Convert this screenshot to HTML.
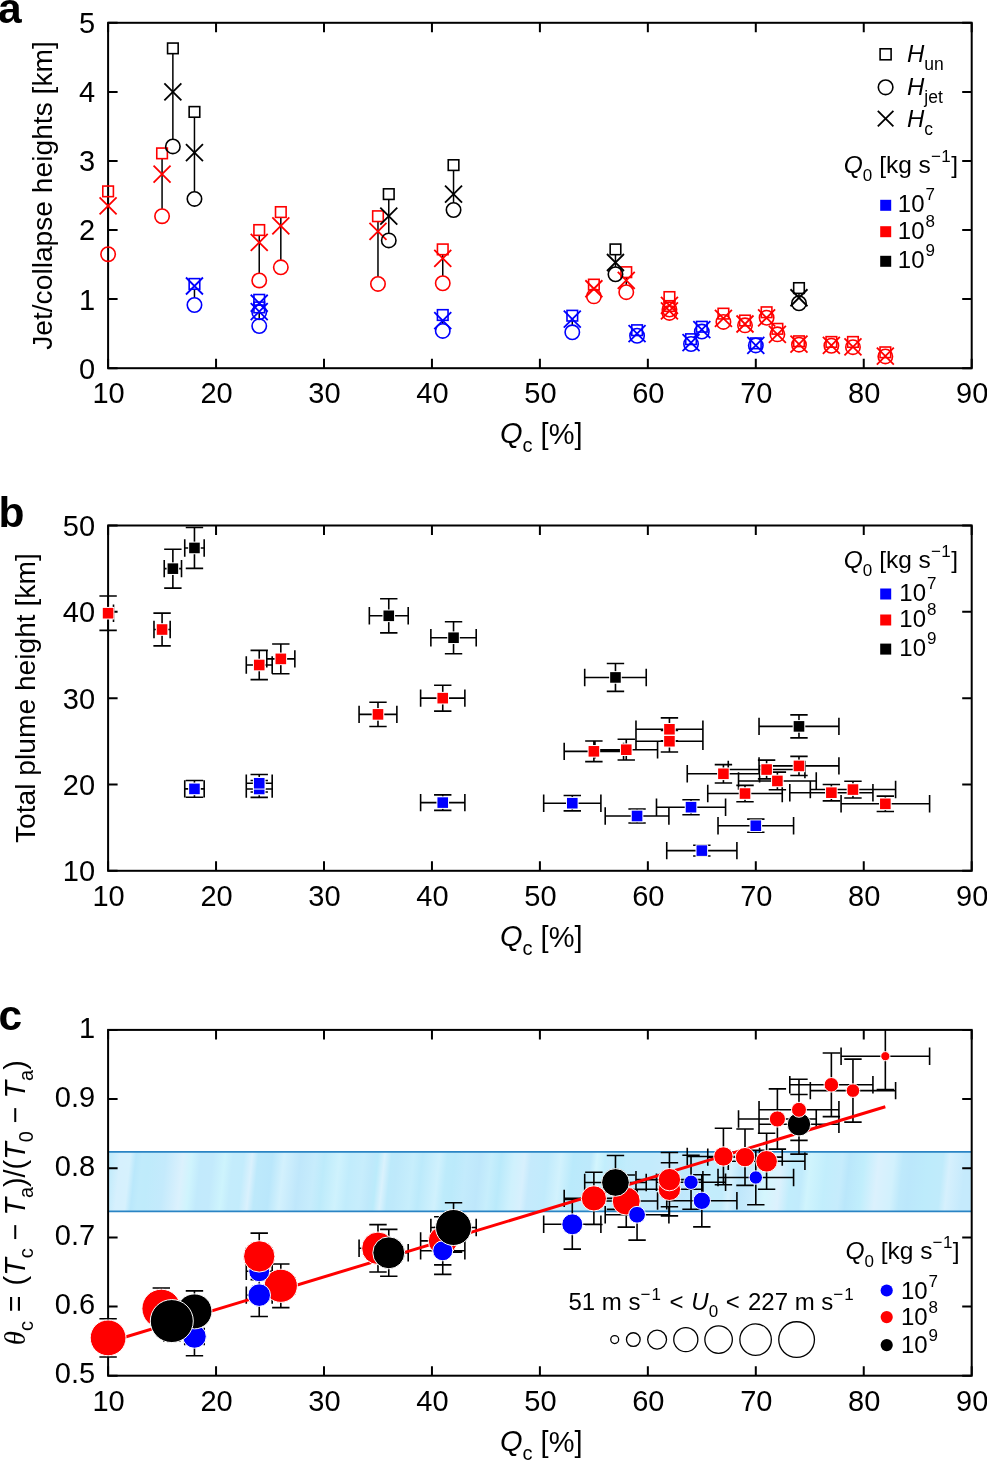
<!DOCTYPE html><html><head><meta charset="utf-8"><style>html,body{margin:0;padding:0;background:#fff;}svg{display:block;will-change:transform;}</style></head><body><svg width="987" height="1461" viewBox="0 0 987 1461">
<rect width="987" height="1461" fill="#fff"/>
<path d="M108.10,368.20V358.70M108.10,22.80V32.30M216.05,368.20V358.70M216.05,22.80V32.30M324.00,368.20V358.70M324.00,22.80V32.30M431.95,368.20V358.70M431.95,22.80V32.30M539.90,368.20V358.70M539.90,22.80V32.30M647.85,368.20V358.70M647.85,22.80V32.30M755.80,368.20V358.70M755.80,22.80V32.30M863.75,368.20V358.70M863.75,22.80V32.30M971.70,368.20V358.70M971.70,22.80V32.30M108.10,368.20H117.60M971.70,368.20H962.20M108.10,299.12H117.60M971.70,299.12H962.20M108.10,230.04H117.60M971.70,230.04H962.20M108.10,160.96H117.60M971.70,160.96H962.20M108.10,91.88H117.60M971.70,91.88H962.20M108.10,22.80H117.60M971.70,22.80H962.20" stroke="#000" stroke-width="2.0" fill="none"/>
<rect x="108.10" y="22.80" width="863.60" height="345.40" fill="none" stroke="#000" stroke-width="2.0"/>
<line x1="108.10" y1="196.66" x2="108.10" y2="247.02" stroke="#000" stroke-width="1.5"/>
<line x1="162.07" y1="158.66" x2="162.07" y2="209.02" stroke="#000" stroke-width="1.5"/>
<line x1="172.87" y1="53.66" x2="172.87" y2="139.25" stroke="#000" stroke-width="1.5"/>
<line x1="194.46" y1="117.21" x2="194.46" y2="191.75" stroke="#000" stroke-width="1.5"/>
<line x1="194.46" y1="289.22" x2="194.46" y2="297.79" stroke="#000" stroke-width="1.5"/>
<line x1="259.23" y1="235.34" x2="259.23" y2="273.27" stroke="#000" stroke-width="1.5"/>
<line x1="259.23" y1="312.71" x2="259.23" y2="318.86" stroke="#000" stroke-width="1.5"/>
<line x1="280.82" y1="217.38" x2="280.82" y2="260.14" stroke="#000" stroke-width="1.5"/>
<line x1="377.98" y1="221.52" x2="377.98" y2="276.72" stroke="#000" stroke-width="1.5"/>
<line x1="388.77" y1="199.42" x2="388.77" y2="233.20" stroke="#000" stroke-width="1.5"/>
<line x1="442.75" y1="254.68" x2="442.75" y2="276.03" stroke="#000" stroke-width="1.5"/>
<line x1="442.75" y1="320.31" x2="442.75" y2="323.70" stroke="#000" stroke-width="1.5"/>
<line x1="453.54" y1="170.40" x2="453.54" y2="202.81" stroke="#000" stroke-width="1.5"/>
<line x1="572.29" y1="321.00" x2="572.29" y2="325.08" stroke="#000" stroke-width="1.5"/>
<line x1="615.47" y1="254.68" x2="615.47" y2="267.05" stroke="#000" stroke-width="1.5"/>
<line x1="626.26" y1="277.48" x2="626.26" y2="285.01" stroke="#000" stroke-width="1.5"/>
<line x1="798.98" y1="293.37" x2="798.98" y2="296.06" stroke="#000" stroke-width="1.5"/>
<rect x="189.16" y="278.62" width="10.6" height="10.6" fill="none" stroke="#0000ff" stroke-width="1.6"/>
<circle cx="194.46" cy="304.99" r="7.2" fill="none" stroke="#0000ff" stroke-width="1.6"/>
<path d="M185.96,277.49L202.96,294.49M185.96,294.49L202.96,277.49" stroke="#0000ff" stroke-width="1.8" fill="none"/>
<rect x="253.93" y="294.51" width="10.6" height="10.6" fill="none" stroke="#0000ff" stroke-width="1.6"/>
<circle cx="259.23" cy="312.25" r="7.2" fill="none" stroke="#0000ff" stroke-width="1.6"/>
<path d="M250.73,294.76L267.73,311.76M250.73,311.76L267.73,294.76" stroke="#0000ff" stroke-width="1.8" fill="none"/>
<rect x="253.93" y="302.11" width="10.6" height="10.6" fill="none" stroke="#0000ff" stroke-width="1.6"/>
<circle cx="259.23" cy="326.06" r="7.2" fill="none" stroke="#0000ff" stroke-width="1.6"/>
<path d="M250.73,303.05L267.73,320.05M250.73,320.05L267.73,303.05" stroke="#0000ff" stroke-width="1.8" fill="none"/>
<rect x="437.44" y="309.71" width="10.6" height="10.6" fill="none" stroke="#0000ff" stroke-width="1.6"/>
<circle cx="442.75" cy="330.90" r="7.2" fill="none" stroke="#0000ff" stroke-width="1.6"/>
<path d="M434.25,312.03L451.25,329.03M434.25,329.03L451.25,312.03" stroke="#0000ff" stroke-width="1.8" fill="none"/>
<rect x="566.99" y="310.40" width="10.6" height="10.6" fill="none" stroke="#0000ff" stroke-width="1.6"/>
<circle cx="572.29" cy="332.28" r="7.2" fill="none" stroke="#0000ff" stroke-width="1.6"/>
<path d="M563.79,310.65L580.79,327.65M563.79,327.65L580.79,310.65" stroke="#0000ff" stroke-width="1.8" fill="none"/>
<rect x="631.76" y="324.91" width="10.6" height="10.6" fill="none" stroke="#0000ff" stroke-width="1.6"/>
<circle cx="637.06" cy="335.73" r="7.2" fill="none" stroke="#0000ff" stroke-width="1.6"/>
<path d="M628.56,325.16L645.56,342.16M628.56,342.16L645.56,325.16" stroke="#0000ff" stroke-width="1.8" fill="none"/>
<rect x="685.73" y="333.89" width="10.6" height="10.6" fill="none" stroke="#0000ff" stroke-width="1.6"/>
<circle cx="691.03" cy="344.02" r="7.2" fill="none" stroke="#0000ff" stroke-width="1.6"/>
<path d="M682.53,334.14L699.53,351.14M682.53,351.14L699.53,334.14" stroke="#0000ff" stroke-width="1.8" fill="none"/>
<rect x="696.53" y="321.45" width="10.6" height="10.6" fill="none" stroke="#0000ff" stroke-width="1.6"/>
<circle cx="701.83" cy="331.59" r="7.2" fill="none" stroke="#0000ff" stroke-width="1.6"/>
<path d="M693.33,321.02L710.33,338.02M693.33,338.02L710.33,321.02" stroke="#0000ff" stroke-width="1.8" fill="none"/>
<rect x="750.50" y="338.03" width="10.6" height="10.6" fill="none" stroke="#0000ff" stroke-width="1.6"/>
<circle cx="755.80" cy="345.40" r="7.2" fill="none" stroke="#0000ff" stroke-width="1.6"/>
<path d="M747.30,336.90L764.30,353.90M747.30,353.90L764.30,336.90" stroke="#0000ff" stroke-width="1.8" fill="none"/>
<rect x="102.80" y="186.06" width="10.6" height="10.6" fill="none" stroke="#ff0000" stroke-width="1.6"/>
<circle cx="108.10" cy="254.22" r="7.2" fill="none" stroke="#ff0000" stroke-width="1.6"/>
<path d="M99.60,197.36L116.60,214.36M99.60,214.36L116.60,197.36" stroke="#ff0000" stroke-width="1.8" fill="none"/>
<rect x="156.77" y="148.06" width="10.6" height="10.6" fill="none" stroke="#ff0000" stroke-width="1.6"/>
<circle cx="162.07" cy="216.22" r="7.2" fill="none" stroke="#ff0000" stroke-width="1.6"/>
<path d="M153.57,165.59L170.57,182.59M153.57,182.59L170.57,165.59" stroke="#ff0000" stroke-width="1.8" fill="none"/>
<rect x="253.93" y="224.74" width="10.6" height="10.6" fill="none" stroke="#ff0000" stroke-width="1.6"/>
<circle cx="259.23" cy="280.47" r="7.2" fill="none" stroke="#ff0000" stroke-width="1.6"/>
<path d="M250.73,233.97L267.73,250.97M250.73,250.97L267.73,233.97" stroke="#ff0000" stroke-width="1.8" fill="none"/>
<rect x="275.52" y="206.78" width="10.6" height="10.6" fill="none" stroke="#ff0000" stroke-width="1.6"/>
<circle cx="280.82" cy="267.34" r="7.2" fill="none" stroke="#ff0000" stroke-width="1.6"/>
<path d="M272.32,217.40L289.32,234.40M272.32,234.40L289.32,217.40" stroke="#ff0000" stroke-width="1.8" fill="none"/>
<rect x="372.68" y="210.92" width="10.6" height="10.6" fill="none" stroke="#ff0000" stroke-width="1.6"/>
<circle cx="377.98" cy="283.92" r="7.2" fill="none" stroke="#ff0000" stroke-width="1.6"/>
<path d="M369.48,222.92L386.48,239.92M369.48,239.92L386.48,222.92" stroke="#ff0000" stroke-width="1.8" fill="none"/>
<rect x="437.44" y="244.08" width="10.6" height="10.6" fill="none" stroke="#ff0000" stroke-width="1.6"/>
<circle cx="442.75" cy="283.23" r="7.2" fill="none" stroke="#ff0000" stroke-width="1.6"/>
<path d="M434.25,249.86L451.25,266.86M434.25,266.86L451.25,249.86" stroke="#ff0000" stroke-width="1.8" fill="none"/>
<rect x="588.58" y="279.31" width="10.6" height="10.6" fill="none" stroke="#ff0000" stroke-width="1.6"/>
<circle cx="593.88" cy="296.36" r="7.2" fill="none" stroke="#ff0000" stroke-width="1.6"/>
<path d="M585.38,280.26L602.38,297.26M585.38,297.26L602.38,280.26" stroke="#ff0000" stroke-width="1.8" fill="none"/>
<rect x="620.96" y="266.88" width="10.6" height="10.6" fill="none" stroke="#ff0000" stroke-width="1.6"/>
<circle cx="626.26" cy="292.21" r="7.2" fill="none" stroke="#ff0000" stroke-width="1.6"/>
<path d="M617.76,271.97L634.76,288.97M617.76,288.97L634.76,271.97" stroke="#ff0000" stroke-width="1.8" fill="none"/>
<rect x="664.14" y="291.75" width="10.6" height="10.6" fill="none" stroke="#ff0000" stroke-width="1.6"/>
<circle cx="669.44" cy="309.48" r="7.2" fill="none" stroke="#ff0000" stroke-width="1.6"/>
<path d="M660.94,296.84L677.94,313.84M660.94,313.84L677.94,296.84" stroke="#ff0000" stroke-width="1.8" fill="none"/>
<rect x="664.14" y="300.73" width="10.6" height="10.6" fill="none" stroke="#ff0000" stroke-width="1.6"/>
<circle cx="669.44" cy="312.94" r="7.2" fill="none" stroke="#ff0000" stroke-width="1.6"/>
<path d="M660.94,302.36L677.94,319.36M660.94,319.36L677.94,302.36" stroke="#ff0000" stroke-width="1.8" fill="none"/>
<rect x="718.12" y="308.33" width="10.6" height="10.6" fill="none" stroke="#ff0000" stroke-width="1.6"/>
<circle cx="723.42" cy="321.92" r="7.2" fill="none" stroke="#ff0000" stroke-width="1.6"/>
<path d="M714.92,309.96L731.92,326.96M714.92,326.96L731.92,309.96" stroke="#ff0000" stroke-width="1.8" fill="none"/>
<rect x="739.71" y="315.23" width="10.6" height="10.6" fill="none" stroke="#ff0000" stroke-width="1.6"/>
<circle cx="745.00" cy="325.37" r="7.2" fill="none" stroke="#ff0000" stroke-width="1.6"/>
<path d="M736.50,315.49L753.50,332.49M736.50,332.49L753.50,315.49" stroke="#ff0000" stroke-width="1.8" fill="none"/>
<rect x="761.30" y="306.95" width="10.6" height="10.6" fill="none" stroke="#ff0000" stroke-width="1.6"/>
<circle cx="766.60" cy="317.77" r="7.2" fill="none" stroke="#ff0000" stroke-width="1.6"/>
<path d="M758.10,309.27L775.10,326.27M758.10,326.27L775.10,309.27" stroke="#ff0000" stroke-width="1.8" fill="none"/>
<rect x="772.09" y="323.52" width="10.6" height="10.6" fill="none" stroke="#ff0000" stroke-width="1.6"/>
<circle cx="777.39" cy="334.35" r="7.2" fill="none" stroke="#ff0000" stroke-width="1.6"/>
<path d="M768.89,325.85L785.89,342.85M768.89,342.85L785.89,325.85" stroke="#ff0000" stroke-width="1.8" fill="none"/>
<rect x="793.68" y="335.96" width="10.6" height="10.6" fill="none" stroke="#ff0000" stroke-width="1.6"/>
<circle cx="798.98" cy="344.71" r="7.2" fill="none" stroke="#ff0000" stroke-width="1.6"/>
<path d="M790.48,335.52L807.48,352.52M790.48,352.52L807.48,335.52" stroke="#ff0000" stroke-width="1.8" fill="none"/>
<rect x="826.07" y="336.65" width="10.6" height="10.6" fill="none" stroke="#ff0000" stroke-width="1.6"/>
<circle cx="831.37" cy="345.75" r="7.2" fill="none" stroke="#ff0000" stroke-width="1.6"/>
<path d="M822.87,336.90L839.87,353.90M822.87,353.90L839.87,336.90" stroke="#ff0000" stroke-width="1.8" fill="none"/>
<rect x="847.66" y="336.65" width="10.6" height="10.6" fill="none" stroke="#ff0000" stroke-width="1.6"/>
<circle cx="852.96" cy="347.13" r="7.2" fill="none" stroke="#ff0000" stroke-width="1.6"/>
<path d="M844.46,338.29L861.46,355.29M844.46,355.29L861.46,338.29" stroke="#ff0000" stroke-width="1.8" fill="none"/>
<rect x="880.04" y="347.01" width="10.6" height="10.6" fill="none" stroke="#ff0000" stroke-width="1.6"/>
<circle cx="885.34" cy="356.46" r="7.2" fill="none" stroke="#ff0000" stroke-width="1.6"/>
<path d="M876.84,347.61L893.84,364.61M876.84,364.61L893.84,347.61" stroke="#ff0000" stroke-width="1.8" fill="none"/>
<rect x="167.57" y="43.06" width="10.6" height="10.6" fill="none" stroke="#000000" stroke-width="1.6"/>
<circle cx="172.87" cy="146.45" r="7.2" fill="none" stroke="#000000" stroke-width="1.6"/>
<path d="M164.37,83.38L181.37,100.38M164.37,100.38L181.37,83.38" stroke="#000000" stroke-width="1.8" fill="none"/>
<rect x="189.16" y="106.61" width="10.6" height="10.6" fill="none" stroke="#000000" stroke-width="1.6"/>
<circle cx="194.46" cy="198.95" r="7.2" fill="none" stroke="#000000" stroke-width="1.6"/>
<path d="M185.96,144.17L202.96,161.17M185.96,161.17L202.96,144.17" stroke="#000000" stroke-width="1.8" fill="none"/>
<rect x="383.47" y="188.82" width="10.6" height="10.6" fill="none" stroke="#000000" stroke-width="1.6"/>
<circle cx="388.77" cy="240.40" r="7.2" fill="none" stroke="#000000" stroke-width="1.6"/>
<path d="M380.27,207.72L397.27,224.72M380.27,224.72L397.27,207.72" stroke="#000000" stroke-width="1.8" fill="none"/>
<rect x="448.24" y="159.80" width="10.6" height="10.6" fill="none" stroke="#000000" stroke-width="1.6"/>
<circle cx="453.54" cy="210.01" r="7.2" fill="none" stroke="#000000" stroke-width="1.6"/>
<path d="M445.04,185.62L462.04,202.62M445.04,202.62L462.04,185.62" stroke="#000000" stroke-width="1.8" fill="none"/>
<rect x="610.17" y="244.08" width="10.6" height="10.6" fill="none" stroke="#000000" stroke-width="1.6"/>
<circle cx="615.47" cy="274.25" r="7.2" fill="none" stroke="#000000" stroke-width="1.6"/>
<path d="M606.97,254.01L623.97,271.01M606.97,271.01L623.97,254.01" stroke="#000000" stroke-width="1.8" fill="none"/>
<rect x="793.68" y="282.77" width="10.6" height="10.6" fill="none" stroke="#000000" stroke-width="1.6"/>
<circle cx="798.98" cy="303.26" r="7.2" fill="none" stroke="#000000" stroke-width="1.6"/>
<path d="M790.48,289.24L807.48,306.24M790.48,306.24L807.48,289.24" stroke="#000000" stroke-width="1.8" fill="none"/>
<text x="108.60" y="403.20" font-family="Liberation Sans, sans-serif" font-size="29" text-anchor="middle">10</text>
<text x="216.55" y="403.20" font-family="Liberation Sans, sans-serif" font-size="29" text-anchor="middle">20</text>
<text x="324.50" y="403.20" font-family="Liberation Sans, sans-serif" font-size="29" text-anchor="middle">30</text>
<text x="432.45" y="403.20" font-family="Liberation Sans, sans-serif" font-size="29" text-anchor="middle">40</text>
<text x="540.40" y="403.20" font-family="Liberation Sans, sans-serif" font-size="29" text-anchor="middle">50</text>
<text x="648.35" y="403.20" font-family="Liberation Sans, sans-serif" font-size="29" text-anchor="middle">60</text>
<text x="756.30" y="403.20" font-family="Liberation Sans, sans-serif" font-size="29" text-anchor="middle">70</text>
<text x="864.25" y="403.20" font-family="Liberation Sans, sans-serif" font-size="29" text-anchor="middle">80</text>
<text x="972.20" y="403.20" font-family="Liberation Sans, sans-serif" font-size="29" text-anchor="middle">90</text>
<text x="95.10" y="378.60" font-family="Liberation Sans, sans-serif" font-size="29" text-anchor="end">0</text>
<text x="95.10" y="309.52" font-family="Liberation Sans, sans-serif" font-size="29" text-anchor="end">1</text>
<text x="95.10" y="240.44" font-family="Liberation Sans, sans-serif" font-size="29" text-anchor="end">2</text>
<text x="95.10" y="171.36" font-family="Liberation Sans, sans-serif" font-size="29" text-anchor="end">3</text>
<text x="95.10" y="102.28" font-family="Liberation Sans, sans-serif" font-size="29" text-anchor="end">4</text>
<text x="95.10" y="33.20" font-family="Liberation Sans, sans-serif" font-size="29" text-anchor="end">5</text>
<text x="500" y="444.20" font-family="Liberation Sans, sans-serif" font-size="29"><tspan font-style="italic" dy="-1">Q</tspan><tspan font-size="20" dy="9">c</tspan><tspan dy="-8"> [%]</tspan></text>
<text transform="translate(52.00,195.50) rotate(-90)" font-family="Liberation Sans, sans-serif" font-size="28.2" text-anchor="middle">Jet/collapse heights [km]</text>
<text x="-2" y="22.6" font-family="Liberation Sans, sans-serif" font-size="42.5" font-weight="bold">a</text>
<rect x="880.10" y="48.80" width="11" height="11" fill="none" stroke="#000" stroke-width="1.6"/>
<circle cx="885.60" cy="87.3" r="7.3" fill="none" stroke="#000" stroke-width="1.6"/>
<path d="M877.80,110.80L893.40,126.40M877.80,126.40L893.40,110.80" stroke="#000" stroke-width="1.8"/>
<text x="907" y="62.20" font-family="Liberation Sans, sans-serif" font-size="24"><tspan font-style="italic">H</tspan><tspan font-size="17.5" dy="8">un</tspan></text>
<text x="907" y="95.00" font-family="Liberation Sans, sans-serif" font-size="24"><tspan font-style="italic">H</tspan><tspan font-size="17.5" dy="8">jet</tspan></text>
<text x="907" y="126.60" font-family="Liberation Sans, sans-serif" font-size="24"><tspan font-style="italic">H</tspan><tspan font-size="17.5" dy="8">c</tspan></text>
<text x="843.80" y="173.30" font-family="Liberation Sans, sans-serif" font-size="24.5"><tspan font-style="italic">Q</tspan><tspan font-size="17" dy="8">0</tspan><tspan dy="-8"> [kg s</tspan><tspan font-size="17" dy="-11" letter-spacing="0.5">−1</tspan><tspan dy="11">]</tspan></text>
<rect x="880.2" y="199.80" width="11" height="11" fill="#0000ff"/>
<text x="897.8" y="212.30" font-family="Liberation Sans, sans-serif" font-size="24">10<tspan font-size="17" dy="-12" dx="1">7</tspan></text>
<rect x="880.2" y="226.20" width="11" height="11" fill="#ff0000"/>
<text x="897.8" y="238.70" font-family="Liberation Sans, sans-serif" font-size="24">10<tspan font-size="17" dy="-12" dx="1">8</tspan></text>
<rect x="880.2" y="255.80" width="11" height="11" fill="#000000"/>
<text x="897.8" y="268.30" font-family="Liberation Sans, sans-serif" font-size="24">10<tspan font-size="17" dy="-12" dx="1">9</tspan></text>
<path d="M108.10,870.80V861.30M108.10,525.50V535.00M216.05,870.80V861.30M216.05,525.50V535.00M324.00,870.80V861.30M324.00,525.50V535.00M431.95,870.80V861.30M431.95,525.50V535.00M539.90,870.80V861.30M539.90,525.50V535.00M647.85,870.80V861.30M647.85,525.50V535.00M755.80,870.80V861.30M755.80,525.50V535.00M863.75,870.80V861.30M863.75,525.50V535.00M971.70,870.80V861.30M971.70,525.50V535.00M108.10,870.80H117.60M971.70,870.80H962.20M108.10,784.47H117.60M971.70,784.47H962.20M108.10,698.15H117.60M971.70,698.15H962.20M108.10,611.83H117.60M971.70,611.83H962.20M108.10,525.50H117.60M971.70,525.50H962.20" stroke="#000" stroke-width="2.0" fill="none"/>
<rect x="108.10" y="525.50" width="863.60" height="345.30" fill="none" stroke="#000" stroke-width="2.0"/>
<path d="M108.10,613.21H113.50M113.50,604.51V621.91M108.10,596.01V630.40M99.40,596.01H116.80M99.40,630.40H116.80M153.98,629.52H170.17M153.98,620.82V638.22M170.17,620.82V638.22M162.07,613.14V645.90M153.38,613.14H170.77M153.38,645.90H170.77M164.23,568.66H181.51M164.23,559.96V577.36M181.51,559.96V577.36M172.87,549.24V588.09M164.17,549.24H181.57M164.17,588.09H181.57M184.74,547.94H204.18M184.74,539.24V556.64M204.18,539.24V556.64M194.46,527.49V568.40M185.76,527.49H203.16M185.76,568.40H203.16M184.74,788.88H204.18M184.74,780.18V797.58M204.18,780.18V797.58M194.46,780.47V797.29M185.76,780.47H203.16M185.76,797.29H203.16M246.28,788.96H272.18M246.28,780.26V797.66M272.18,780.26V797.66M259.23,780.56V797.37M250.53,780.56H267.93M250.53,797.37H267.93M246.28,783.27H272.18M246.28,774.57V791.97M272.18,774.57V791.97M259.23,774.57V791.96M250.53,774.57H267.93M250.53,791.96H267.93M246.28,665.00H272.18M246.28,656.30V673.70M272.18,656.30V673.70M259.23,650.40V679.61M250.53,650.40H267.93M250.53,679.61H267.93M266.79,658.87H294.85M266.79,650.17V667.57M294.85,650.17V667.57M280.82,643.96V673.78M272.12,643.96H289.52M272.12,673.78H289.52M359.08,714.38H396.87M359.08,705.68V723.08M396.87,705.68V723.08M377.98,702.24V726.52M369.28,702.24H386.68M369.28,726.52H386.68M369.34,615.80H408.20M369.34,607.10V624.50M408.20,607.10V624.50M388.77,598.73V632.86M380.07,598.73H397.47M380.07,632.86H397.47M420.62,698.15H464.87M420.62,689.45V706.85M464.87,689.45V706.85M442.75,685.20V711.10M434.05,685.20H451.44M434.05,711.10H451.44M420.62,802.60H464.87M420.62,793.90V811.30M464.87,793.90V811.30M442.75,794.88V810.33M434.05,794.88H451.44M434.05,810.33H451.44M430.87,637.72H476.21M430.87,629.02V646.42M476.21,629.02V646.42M453.54,621.75V653.69M444.84,621.75H462.24M444.84,653.69H462.24M543.68,803.21H600.89M543.68,794.51V811.91M600.89,794.51V811.91M572.29,795.51V810.90M563.59,795.51H580.99M563.59,810.90H580.99M564.19,751.33H623.56M564.19,742.63V760.03M623.56,742.63V760.03M593.88,741.04V761.62M585.17,741.04H602.58M585.17,761.62H602.58M584.70,677.43H646.23M584.70,668.73V686.13M646.23,668.73V686.13M615.47,663.45V691.42M606.76,663.45H624.17M606.76,691.42H624.17M594.95,749.69H657.57M594.95,740.99V758.39M657.57,740.99V758.39M626.26,739.31V760.06M617.56,739.31H634.96M617.56,760.06H634.96M605.21,815.98H668.90M605.21,807.28V824.68M668.90,807.28V824.68M637.06,808.93V823.04M628.36,808.93H645.76M628.36,823.04H645.76M635.98,729.31H702.90M635.98,720.61V738.01M702.90,720.61V738.01M669.44,717.92V740.70M660.74,717.92H678.14M660.74,740.70H678.14M635.98,741.23H702.90M635.98,732.53V749.93M702.90,732.53V749.93M669.44,730.43V752.02M660.74,730.43H678.14M660.74,752.02H678.14M656.49,807.18H725.57M656.49,798.48V815.88M725.57,798.48V815.88M691.03,799.68V814.68M682.33,799.68H699.73M682.33,814.68H699.73M666.74,850.60H736.91M666.74,841.90V859.30M736.91,841.90V859.30M701.83,845.27V855.93M693.12,845.27H710.53M693.12,855.93H710.53M687.25,773.77H759.58M687.25,765.07V782.47M759.58,765.07V782.47M723.42,764.60V782.94M714.72,764.60H732.12M714.72,782.94H732.12M707.76,793.54H782.25M707.76,784.84V802.24M782.25,784.84V802.24M745.00,785.36V801.72M736.30,785.36H753.71M736.30,801.72H753.71M718.02,825.74H793.58M718.02,817.04V834.44M793.58,817.04V834.44M755.80,819.17V832.31M747.10,819.17H764.50M747.10,832.31H764.50M728.27,769.54H804.92M728.27,760.84V778.24M804.92,760.84V778.24M766.60,760.16V778.92M757.89,760.16H775.30M757.89,778.92H775.30M738.53,780.94H816.25M738.53,772.24V789.64M816.25,772.24V789.64M777.39,772.13V789.75M768.69,772.13H786.09M768.69,789.75H786.09M759.04,765.92H838.92M759.04,757.22V774.62M838.92,757.22V774.62M798.98,756.35V775.48M790.28,756.35H807.68M790.28,775.48H807.68M759.04,726.38H838.92M759.04,717.68V735.08M838.92,717.68V735.08M798.98,714.84V737.92M790.28,714.84H807.68M790.28,737.92H807.68M789.80,792.68H872.93M789.80,783.98V801.38M872.93,783.98V801.38M831.37,784.45V800.90M822.67,784.45H840.07M822.67,800.90H840.07M810.31,789.57H895.60M810.31,780.87V798.27M895.60,780.87V798.27M852.96,781.19V797.95M844.25,781.19H861.66M844.25,797.95H861.66M841.08,803.81H929.60M841.08,795.11V812.51M929.60,795.11V812.51M885.34,796.15V811.48M876.64,796.15H894.04M876.64,811.48H894.04" stroke="#000" stroke-width="1.6" fill="none"/>
<rect x="102.80" y="607.91" width="10.6" height="10.6" fill="#ff0000" stroke="#fff" stroke-width="2" paint-order="stroke"/>
<rect x="156.77" y="624.22" width="10.6" height="10.6" fill="#ff0000" stroke="#fff" stroke-width="2" paint-order="stroke"/>
<rect x="167.57" y="563.36" width="10.6" height="10.6" fill="#000000" stroke="#fff" stroke-width="2" paint-order="stroke"/>
<rect x="189.16" y="542.64" width="10.6" height="10.6" fill="#000000" stroke="#fff" stroke-width="2" paint-order="stroke"/>
<rect x="189.16" y="783.58" width="10.6" height="10.6" fill="#0000ff" stroke="#fff" stroke-width="2" paint-order="stroke"/>
<rect x="253.93" y="783.66" width="10.6" height="10.6" fill="#0000ff" stroke="#fff" stroke-width="2" paint-order="stroke"/>
<rect x="253.93" y="777.97" width="10.6" height="10.6" fill="#0000ff" stroke="#fff" stroke-width="2" paint-order="stroke"/>
<rect x="253.93" y="659.70" width="10.6" height="10.6" fill="#ff0000" stroke="#fff" stroke-width="2" paint-order="stroke"/>
<rect x="275.52" y="653.57" width="10.6" height="10.6" fill="#ff0000" stroke="#fff" stroke-width="2" paint-order="stroke"/>
<rect x="372.68" y="709.08" width="10.6" height="10.6" fill="#ff0000" stroke="#fff" stroke-width="2" paint-order="stroke"/>
<rect x="383.47" y="610.50" width="10.6" height="10.6" fill="#000000" stroke="#fff" stroke-width="2" paint-order="stroke"/>
<rect x="437.44" y="692.85" width="10.6" height="10.6" fill="#ff0000" stroke="#fff" stroke-width="2" paint-order="stroke"/>
<rect x="437.44" y="797.30" width="10.6" height="10.6" fill="#0000ff" stroke="#fff" stroke-width="2" paint-order="stroke"/>
<rect x="448.24" y="632.42" width="10.6" height="10.6" fill="#000000" stroke="#fff" stroke-width="2" paint-order="stroke"/>
<rect x="566.99" y="797.91" width="10.6" height="10.6" fill="#0000ff" stroke="#fff" stroke-width="2" paint-order="stroke"/>
<rect x="588.58" y="746.03" width="10.6" height="10.6" fill="#ff0000" stroke="#fff" stroke-width="2" paint-order="stroke"/>
<rect x="610.17" y="672.13" width="10.6" height="10.6" fill="#000000" stroke="#fff" stroke-width="2" paint-order="stroke"/>
<rect x="620.96" y="744.39" width="10.6" height="10.6" fill="#ff0000" stroke="#fff" stroke-width="2" paint-order="stroke"/>
<rect x="631.76" y="810.68" width="10.6" height="10.6" fill="#0000ff" stroke="#fff" stroke-width="2" paint-order="stroke"/>
<rect x="664.14" y="724.01" width="10.6" height="10.6" fill="#ff0000" stroke="#fff" stroke-width="2" paint-order="stroke"/>
<rect x="664.14" y="735.93" width="10.6" height="10.6" fill="#ff0000" stroke="#fff" stroke-width="2" paint-order="stroke"/>
<rect x="685.73" y="801.88" width="10.6" height="10.6" fill="#0000ff" stroke="#fff" stroke-width="2" paint-order="stroke"/>
<rect x="696.53" y="845.30" width="10.6" height="10.6" fill="#0000ff" stroke="#fff" stroke-width="2" paint-order="stroke"/>
<rect x="718.12" y="768.47" width="10.6" height="10.6" fill="#ff0000" stroke="#fff" stroke-width="2" paint-order="stroke"/>
<rect x="739.71" y="788.24" width="10.6" height="10.6" fill="#ff0000" stroke="#fff" stroke-width="2" paint-order="stroke"/>
<rect x="750.50" y="820.44" width="10.6" height="10.6" fill="#0000ff" stroke="#fff" stroke-width="2" paint-order="stroke"/>
<rect x="761.30" y="764.24" width="10.6" height="10.6" fill="#ff0000" stroke="#fff" stroke-width="2" paint-order="stroke"/>
<rect x="772.09" y="775.64" width="10.6" height="10.6" fill="#ff0000" stroke="#fff" stroke-width="2" paint-order="stroke"/>
<rect x="793.68" y="760.62" width="10.6" height="10.6" fill="#ff0000" stroke="#fff" stroke-width="2" paint-order="stroke"/>
<rect x="793.68" y="721.08" width="10.6" height="10.6" fill="#000000" stroke="#fff" stroke-width="2" paint-order="stroke"/>
<rect x="826.07" y="787.38" width="10.6" height="10.6" fill="#ff0000" stroke="#fff" stroke-width="2" paint-order="stroke"/>
<rect x="847.66" y="784.27" width="10.6" height="10.6" fill="#ff0000" stroke="#fff" stroke-width="2" paint-order="stroke"/>
<rect x="880.04" y="798.51" width="10.6" height="10.6" fill="#ff0000" stroke="#fff" stroke-width="2" paint-order="stroke"/>
<text x="108.60" y="905.80" font-family="Liberation Sans, sans-serif" font-size="29" text-anchor="middle">10</text>
<text x="216.55" y="905.80" font-family="Liberation Sans, sans-serif" font-size="29" text-anchor="middle">20</text>
<text x="324.50" y="905.80" font-family="Liberation Sans, sans-serif" font-size="29" text-anchor="middle">30</text>
<text x="432.45" y="905.80" font-family="Liberation Sans, sans-serif" font-size="29" text-anchor="middle">40</text>
<text x="540.40" y="905.80" font-family="Liberation Sans, sans-serif" font-size="29" text-anchor="middle">50</text>
<text x="648.35" y="905.80" font-family="Liberation Sans, sans-serif" font-size="29" text-anchor="middle">60</text>
<text x="756.30" y="905.80" font-family="Liberation Sans, sans-serif" font-size="29" text-anchor="middle">70</text>
<text x="864.25" y="905.80" font-family="Liberation Sans, sans-serif" font-size="29" text-anchor="middle">80</text>
<text x="972.20" y="905.80" font-family="Liberation Sans, sans-serif" font-size="29" text-anchor="middle">90</text>
<text x="95.10" y="881.20" font-family="Liberation Sans, sans-serif" font-size="29" text-anchor="end">10</text>
<text x="95.10" y="794.87" font-family="Liberation Sans, sans-serif" font-size="29" text-anchor="end">20</text>
<text x="95.10" y="708.55" font-family="Liberation Sans, sans-serif" font-size="29" text-anchor="end">30</text>
<text x="95.10" y="622.23" font-family="Liberation Sans, sans-serif" font-size="29" text-anchor="end">40</text>
<text x="95.10" y="535.90" font-family="Liberation Sans, sans-serif" font-size="29" text-anchor="end">50</text>
<text x="500" y="946.80" font-family="Liberation Sans, sans-serif" font-size="29"><tspan font-style="italic" dy="-1">Q</tspan><tspan font-size="20" dy="9">c</tspan><tspan dy="-8"> [%]</tspan></text>
<text transform="translate(34.50,698.15) rotate(-90)" font-family="Liberation Sans, sans-serif" font-size="28.2" text-anchor="middle">Total plume height [km]</text>
<text x="-1.6" y="526.8" font-family="Liberation Sans, sans-serif" font-size="42.5" font-weight="bold">b</text>
<text x="843.80" y="568.20" font-family="Liberation Sans, sans-serif" font-size="24.5"><tspan font-style="italic">Q</tspan><tspan font-size="17" dy="8">0</tspan><tspan dy="-8"> [kg s</tspan><tspan font-size="17" dy="-11" letter-spacing="0.5">−1</tspan><tspan dy="11">]</tspan></text>
<rect x="880.2" y="588.50" width="11" height="11" fill="#0000ff"/>
<text x="899.3" y="601.00" font-family="Liberation Sans, sans-serif" font-size="24">10<tspan font-size="17" dy="-12" dx="1">7</tspan></text>
<rect x="880.2" y="614.50" width="11" height="11" fill="#ff0000"/>
<text x="899.3" y="627.00" font-family="Liberation Sans, sans-serif" font-size="24">10<tspan font-size="17" dy="-12" dx="1">8</tspan></text>
<rect x="880.2" y="643.60" width="11" height="11" fill="#000000"/>
<text x="899.3" y="656.10" font-family="Liberation Sans, sans-serif" font-size="24">10<tspan font-size="17" dy="-12" dx="1">9</tspan></text>
<defs><linearGradient id="band" gradientUnits="userSpaceOnUse" x1="108" y1="1150" x2="972" y2="1240"><stop offset="0.0000" stop-color="rgb(187,234,251)"/><stop offset="0.0151" stop-color="rgb(214,240,253)"/><stop offset="0.0262" stop-color="rgb(214,241,253)"/><stop offset="0.0328" stop-color="rgb(186,232,251)"/><stop offset="0.0400" stop-color="rgb(192,235,251)"/><stop offset="0.0478" stop-color="rgb(191,235,251)"/><stop offset="0.0670" stop-color="rgb(196,234,252)"/><stop offset="0.0867" stop-color="rgb(219,241,253)"/><stop offset="0.0968" stop-color="rgb(207,244,253)"/><stop offset="0.1071" stop-color="rgb(194,234,252)"/><stop offset="0.1212" stop-color="rgb(195,234,252)"/><stop offset="0.1349" stop-color="rgb(206,244,253)"/><stop offset="0.1438" stop-color="rgb(196,236,252)"/><stop offset="0.1563" stop-color="rgb(195,236,252)"/><stop offset="0.1658" stop-color="rgb(218,241,253)"/><stop offset="0.1729" stop-color="rgb(189,233,251)"/><stop offset="0.1891" stop-color="rgb(186,231,251)"/><stop offset="0.2023" stop-color="rgb(211,241,253)"/><stop offset="0.2214" stop-color="rgb(191,231,251)"/><stop offset="0.2381" stop-color="rgb(199,236,252)"/><stop offset="0.2488" stop-color="rgb(189,235,251)"/><stop offset="0.2660" stop-color="rgb(207,242,253)"/><stop offset="0.2786" stop-color="rgb(193,236,252)"/><stop offset="0.2937" stop-color="rgb(199,237,252)"/><stop offset="0.3037" stop-color="rgb(191,233,251)"/><stop offset="0.3100" stop-color="rgb(187,235,251)"/><stop offset="0.3176" stop-color="rgb(218,242,253)"/><stop offset="0.3254" stop-color="rgb(189,234,251)"/><stop offset="0.3325" stop-color="rgb(190,233,251)"/><stop offset="0.3509" stop-color="rgb(199,238,252)"/><stop offset="0.3608" stop-color="rgb(188,234,251)"/><stop offset="0.3802" stop-color="rgb(208,241,253)"/><stop offset="0.3895" stop-color="rgb(189,235,251)"/><stop offset="0.3980" stop-color="rgb(187,234,251)"/><stop offset="0.4115" stop-color="rgb(195,235,252)"/><stop offset="0.4272" stop-color="rgb(190,231,251)"/><stop offset="0.4396" stop-color="rgb(199,238,252)"/><stop offset="0.4511" stop-color="rgb(186,234,251)"/><stop offset="0.4659" stop-color="rgb(207,241,253)"/><stop offset="0.4781" stop-color="rgb(215,240,253)"/><stop offset="0.4855" stop-color="rgb(197,234,252)"/><stop offset="0.5048" stop-color="rgb(193,235,252)"/><stop offset="0.5194" stop-color="rgb(210,242,253)"/><stop offset="0.5339" stop-color="rgb(186,234,251)"/><stop offset="0.5538" stop-color="rgb(189,233,251)"/><stop offset="0.5610" stop-color="rgb(211,245,253)"/><stop offset="0.5707" stop-color="rgb(194,238,252)"/><stop offset="0.5770" stop-color="rgb(197,236,252)"/><stop offset="0.5850" stop-color="rgb(186,235,251)"/><stop offset="0.5952" stop-color="rgb(193,236,252)"/><stop offset="0.6085" stop-color="rgb(195,235,252)"/><stop offset="0.6219" stop-color="rgb(195,235,252)"/><stop offset="0.6365" stop-color="rgb(199,235,252)"/><stop offset="0.6538" stop-color="rgb(198,235,252)"/><stop offset="0.6626" stop-color="rgb(191,231,251)"/><stop offset="0.6825" stop-color="rgb(196,236,252)"/><stop offset="0.6912" stop-color="rgb(195,237,252)"/><stop offset="0.7085" stop-color="rgb(195,236,252)"/><stop offset="0.7156" stop-color="rgb(213,241,253)"/><stop offset="0.7263" stop-color="rgb(190,231,251)"/><stop offset="0.7391" stop-color="rgb(199,234,252)"/><stop offset="0.7567" stop-color="rgb(212,246,253)"/><stop offset="0.7727" stop-color="rgb(220,241,253)"/><stop offset="0.7848" stop-color="rgb(193,237,252)"/><stop offset="0.7973" stop-color="rgb(193,235,252)"/><stop offset="0.8056" stop-color="rgb(208,244,253)"/><stop offset="0.8243" stop-color="rgb(194,238,252)"/><stop offset="0.8419" stop-color="rgb(198,236,252)"/><stop offset="0.8501" stop-color="rgb(186,231,251)"/><stop offset="0.8673" stop-color="rgb(193,238,252)"/><stop offset="0.8837" stop-color="rgb(219,241,253)"/><stop offset="0.9013" stop-color="rgb(210,241,253)"/><stop offset="0.9114" stop-color="rgb(190,233,251)"/><stop offset="0.9210" stop-color="rgb(187,231,251)"/><stop offset="0.9398" stop-color="rgb(189,235,251)"/><stop offset="0.9572" stop-color="rgb(192,235,251)"/><stop offset="0.9650" stop-color="rgb(214,240,253)"/><stop offset="0.9832" stop-color="rgb(197,234,252)"/></linearGradient></defs>
<rect x="108.10" y="1151.90" width="863.60" height="59.50" fill="url(#band)"/>
<path d="M108.10,1151.90H971.70M108.10,1211.40H971.70" stroke="#2a84c4" stroke-width="1.6"/>
<path d="M108.10,1375.70V1366.20M108.10,1029.90V1039.40M216.05,1375.70V1366.20M216.05,1029.90V1039.40M324.00,1375.70V1366.20M324.00,1029.90V1039.40M431.95,1375.70V1366.20M431.95,1029.90V1039.40M539.90,1375.70V1366.20M539.90,1029.90V1039.40M647.85,1375.70V1366.20M647.85,1029.90V1039.40M755.80,1375.70V1366.20M755.80,1029.90V1039.40M863.75,1375.70V1366.20M863.75,1029.90V1039.40M971.70,1375.70V1366.20M971.70,1029.90V1039.40M108.10,1375.70H117.60M971.70,1375.70H962.20M108.10,1306.54H117.60M971.70,1306.54H962.20M108.10,1237.38H117.60M971.70,1237.38H962.20M108.10,1168.22H117.60M971.70,1168.22H962.20M108.10,1099.06H117.60M971.70,1099.06H962.20M108.10,1029.90H117.60M971.70,1029.90H962.20" stroke="#000" stroke-width="2.0" fill="none"/>
<rect x="108.10" y="1029.90" width="863.60" height="345.80" fill="none" stroke="#000" stroke-width="2.0"/>
<clipPath id="clipc"><rect x="0" y="1029.90" width="987" height="345.80"/></clipPath>
<path d="M108.10,1337.87H113.50M113.50,1329.17V1346.57M108.10,1318.69V1357.05M99.40,1318.69H116.80M99.40,1357.05H116.80M153.26,1308.61H169.38M153.26,1299.91V1317.31M169.38,1299.91V1317.31M161.32,1287.97V1329.26M152.62,1287.97H170.02M152.62,1329.26H170.02M184.74,1336.49H204.18M184.74,1327.79V1345.19M204.18,1327.79V1345.19M194.46,1317.24V1355.74M185.76,1317.24H203.16M185.76,1355.74H203.16M184.74,1311.38H204.18M184.74,1302.68V1320.08M204.18,1302.68V1320.08M194.46,1290.88V1331.89M185.76,1290.88H203.16M185.76,1331.89H203.16M163.21,1321.06H180.37M163.21,1312.36V1329.76M180.37,1312.36V1329.76M171.79,1301.04V1341.09M163.09,1301.04H180.49M163.09,1341.09H180.49M266.79,1285.79H294.85M266.79,1277.09V1294.49M294.85,1277.09V1294.49M280.82,1264.01V1307.58M272.12,1264.01H289.52M272.12,1307.58H289.52M246.28,1271.27H272.18M246.28,1262.57V1279.97M272.18,1262.57V1279.97M259.23,1248.76V1293.78M250.53,1248.76H267.93M250.53,1293.78H267.93M246.28,1295.13H272.18M246.28,1286.43V1303.83M272.18,1286.43V1303.83M259.23,1273.81V1316.45M250.53,1273.81H267.93M250.53,1316.45H267.93M246.28,1256.40H272.18M246.28,1247.70V1265.10M272.18,1247.70V1265.10M259.23,1233.14V1279.65M250.53,1233.14H267.93M250.53,1279.65H267.93M359.08,1248.31H396.87M359.08,1239.61V1257.01M396.87,1239.61V1257.01M377.98,1224.65V1271.97M369.28,1224.65H386.68M369.28,1271.97H386.68M369.34,1252.80H408.20M369.34,1244.10V1261.50M408.20,1244.10V1261.50M388.77,1229.37V1276.24M380.07,1229.37H397.47M380.07,1276.24H397.47M420.62,1240.84H464.87M420.62,1232.14V1249.54M464.87,1232.14V1249.54M442.75,1216.80V1264.87M434.05,1216.80H451.44M434.05,1264.87H451.44M420.62,1250.80H464.87M420.62,1242.10V1259.50M464.87,1242.10V1259.50M442.75,1227.26V1274.33M434.05,1227.26H451.44M434.05,1274.33H451.44M430.87,1227.49H476.21M430.87,1218.79V1236.19M476.21,1218.79V1236.19M453.54,1202.79V1252.19M444.84,1202.79H462.24M444.84,1252.19H462.24M543.68,1224.31H600.89M543.68,1215.61V1233.01M600.89,1215.61V1233.01M572.29,1199.45V1249.17M563.59,1199.45H580.99M563.59,1249.17H580.99M564.19,1198.37H623.56M564.19,1189.67V1207.07M623.56,1189.67V1207.07M593.88,1172.22V1224.53M585.17,1172.22H602.58M585.17,1224.53H602.58M594.95,1201.07H657.57M594.95,1192.37V1209.77M657.57,1192.37V1209.77M626.26,1175.05V1227.09M617.56,1175.05H634.96M617.56,1227.09H634.96M584.70,1182.47H646.23M584.70,1173.77V1191.17M646.23,1173.77V1191.17M615.47,1155.52V1209.42M606.76,1155.52H624.17M606.76,1209.42H624.17M605.21,1214.76H668.90M605.21,1206.06V1223.46M668.90,1206.06V1223.46M637.06,1189.43V1240.10M628.36,1189.43H645.76M628.36,1240.10H645.76M635.98,1189.31H702.90M635.98,1180.61V1198.01M702.90,1180.61V1198.01M669.44,1162.70V1215.92M660.74,1162.70H678.14M660.74,1215.92H678.14M635.98,1179.63H702.90M635.98,1170.93V1188.33M702.90,1170.93V1188.33M669.44,1152.54V1206.72M660.74,1152.54H678.14M660.74,1206.72H678.14M656.49,1182.26H725.57M656.49,1173.56V1190.96M725.57,1173.56V1190.96M691.03,1155.30V1209.22M682.33,1155.30H699.73M682.33,1209.22H699.73M666.74,1200.79H736.91M666.74,1192.09V1209.49M736.91,1192.09V1209.49M701.83,1174.76V1226.83M693.12,1174.76H710.53M693.12,1226.83H710.53M687.25,1156.46H759.58M687.25,1147.76V1165.16M759.58,1147.76V1165.16M723.42,1128.21V1184.71M714.72,1128.21H732.12M714.72,1184.71H732.12M707.76,1157.15H782.25M707.76,1148.45V1165.85M782.25,1148.45V1165.85M745.00,1128.94V1185.37M736.30,1128.94H753.71M736.30,1185.37H753.71M718.02,1177.49H793.58M718.02,1168.79V1186.19M793.58,1168.79V1186.19M755.80,1150.29V1204.69M747.10,1150.29H764.50M747.10,1204.69H764.50M728.27,1161.30H804.92M728.27,1152.60V1170.00M804.92,1152.60V1170.00M766.60,1133.29V1189.31M757.89,1133.29H775.30M757.89,1189.31H775.30M738.53,1118.98H816.25M738.53,1110.28V1127.68M816.25,1110.28V1127.68M777.39,1088.85V1149.10M768.69,1088.85H786.09M768.69,1149.10H786.09M759.04,1124.30H838.92M759.04,1115.60V1133.00M838.92,1115.60V1133.00M798.98,1094.44V1154.16M790.28,1094.44H807.68M790.28,1154.16H807.68M759.04,1109.78H838.92M759.04,1101.08V1118.48M838.92,1101.08V1118.48M798.98,1079.19V1140.37M790.28,1079.19H807.68M790.28,1140.37H807.68M789.80,1084.81H872.93M789.80,1076.11V1093.51M872.93,1076.11V1093.51M831.37,1052.98V1116.65M822.67,1052.98H840.07M822.67,1116.65H840.07M810.31,1090.62H895.60M810.31,1081.92V1099.32M895.60,1081.92V1099.32M852.96,1059.08V1122.17M844.25,1059.08H861.66M844.25,1122.17H861.66M841.08,1056.18H929.60M841.08,1047.48V1064.88M929.60,1047.48V1064.88M885.34,1029.90V1089.45M876.64,1089.45H894.04" stroke="#000" stroke-width="1.6" fill="none"/>
<line x1="108.10" y1="1342.30" x2="885.34" y2="1106.71" stroke="#ff0000" stroke-width="3"/>
<circle cx="108.10" cy="1337.87" r="17.90" fill="#ff0000" stroke="#fff" stroke-width="1.0"/>
<circle cx="161.32" cy="1308.61" r="19.40" fill="#ff0000" stroke="#fff" stroke-width="1.0"/>
<circle cx="194.46" cy="1336.49" r="11.80" fill="#0000ff" stroke="#fff" stroke-width="1.0"/>
<circle cx="194.46" cy="1311.38" r="17.50" fill="#000000" stroke="#fff" stroke-width="1.0"/>
<circle cx="171.79" cy="1321.06" r="21.50" fill="#000000" stroke="#fff" stroke-width="1.0"/>
<circle cx="280.82" cy="1285.79" r="16.60" fill="#ff0000" stroke="#fff" stroke-width="1.0"/>
<circle cx="259.23" cy="1271.27" r="10.50" fill="#0000ff" stroke="#fff" stroke-width="1.0"/>
<circle cx="259.23" cy="1295.13" r="11.30" fill="#0000ff" stroke="#fff" stroke-width="1.0"/>
<circle cx="259.23" cy="1256.40" r="15.70" fill="#ff0000" stroke="#fff" stroke-width="1.0"/>
<circle cx="377.98" cy="1248.31" r="16.30" fill="#ff0000" stroke="#fff" stroke-width="1.0"/>
<circle cx="388.77" cy="1252.80" r="16.00" fill="#000000" stroke="#fff" stroke-width="1.0"/>
<circle cx="442.75" cy="1240.84" r="14.50" fill="#ff0000" stroke="#fff" stroke-width="1.0"/>
<circle cx="442.75" cy="1250.80" r="10.00" fill="#0000ff" stroke="#fff" stroke-width="1.0"/>
<circle cx="453.54" cy="1227.49" r="18.00" fill="#000000" stroke="#fff" stroke-width="1.0"/>
<circle cx="572.29" cy="1224.31" r="10.50" fill="#0000ff" stroke="#fff" stroke-width="1.0"/>
<circle cx="593.88" cy="1198.37" r="12.60" fill="#ff0000" stroke="#fff" stroke-width="1.0"/>
<circle cx="626.26" cy="1201.07" r="14.00" fill="#ff0000" stroke="#fff" stroke-width="1.0"/>
<circle cx="615.47" cy="1182.47" r="13.90" fill="#000000" stroke="#fff" stroke-width="1.0"/>
<circle cx="637.06" cy="1214.76" r="8.40" fill="#0000ff" stroke="#fff" stroke-width="1.0"/>
<circle cx="669.44" cy="1189.31" r="11.20" fill="#ff0000" stroke="#fff" stroke-width="1.0"/>
<circle cx="669.44" cy="1179.63" r="11.20" fill="#ff0000" stroke="#fff" stroke-width="1.0"/>
<circle cx="691.03" cy="1182.26" r="7.20" fill="#0000ff" stroke="#fff" stroke-width="1.0"/>
<circle cx="701.83" cy="1200.79" r="8.70" fill="#0000ff" stroke="#fff" stroke-width="1.0"/>
<circle cx="723.42" cy="1156.46" r="9.70" fill="#ff0000" stroke="#fff" stroke-width="1.0"/>
<circle cx="745.00" cy="1157.15" r="9.70" fill="#ff0000" stroke="#fff" stroke-width="1.0"/>
<circle cx="755.80" cy="1177.49" r="6.70" fill="#0000ff" stroke="#fff" stroke-width="1.0"/>
<circle cx="766.60" cy="1161.30" r="10.80" fill="#ff0000" stroke="#fff" stroke-width="1.0"/>
<circle cx="777.39" cy="1118.98" r="8.10" fill="#ff0000" stroke="#fff" stroke-width="1.0"/>
<circle cx="798.98" cy="1124.30" r="11.70" fill="#000000" stroke="#fff" stroke-width="1.0"/>
<circle cx="798.98" cy="1109.78" r="7.50" fill="#ff0000" stroke="#fff" stroke-width="1.0"/>
<circle cx="831.37" cy="1084.81" r="7.30" fill="#ff0000" stroke="#fff" stroke-width="1.0"/>
<circle cx="852.96" cy="1090.62" r="6.80" fill="#ff0000" stroke="#fff" stroke-width="1.0"/>
<circle cx="885.34" cy="1056.18" r="4.60" fill="#ff0000" stroke="#fff" stroke-width="1.0"/>
<text x="108.60" y="1410.70" font-family="Liberation Sans, sans-serif" font-size="29" text-anchor="middle">10</text>
<text x="216.55" y="1410.70" font-family="Liberation Sans, sans-serif" font-size="29" text-anchor="middle">20</text>
<text x="324.50" y="1410.70" font-family="Liberation Sans, sans-serif" font-size="29" text-anchor="middle">30</text>
<text x="432.45" y="1410.70" font-family="Liberation Sans, sans-serif" font-size="29" text-anchor="middle">40</text>
<text x="540.40" y="1410.70" font-family="Liberation Sans, sans-serif" font-size="29" text-anchor="middle">50</text>
<text x="648.35" y="1410.70" font-family="Liberation Sans, sans-serif" font-size="29" text-anchor="middle">60</text>
<text x="756.30" y="1410.70" font-family="Liberation Sans, sans-serif" font-size="29" text-anchor="middle">70</text>
<text x="864.25" y="1410.70" font-family="Liberation Sans, sans-serif" font-size="29" text-anchor="middle">80</text>
<text x="972.20" y="1410.70" font-family="Liberation Sans, sans-serif" font-size="29" text-anchor="middle">90</text>
<text x="95.10" y="1383.30" font-family="Liberation Sans, sans-serif" font-size="29" text-anchor="end">0.5</text>
<text x="95.10" y="1314.14" font-family="Liberation Sans, sans-serif" font-size="29" text-anchor="end">0.6</text>
<text x="95.10" y="1244.98" font-family="Liberation Sans, sans-serif" font-size="29" text-anchor="end">0.7</text>
<text x="95.10" y="1175.82" font-family="Liberation Sans, sans-serif" font-size="29" text-anchor="end">0.8</text>
<text x="95.10" y="1106.66" font-family="Liberation Sans, sans-serif" font-size="29" text-anchor="end">0.9</text>
<text x="95.10" y="1037.50" font-family="Liberation Sans, sans-serif" font-size="29" text-anchor="end">1</text>
<text x="500" y="1451.70" font-family="Liberation Sans, sans-serif" font-size="29"><tspan font-style="italic" dy="-1">Q</tspan><tspan font-size="20" dy="9">c</tspan><tspan dy="-8"> [%]</tspan></text>
<text x="-1.6" y="1029.8" font-family="Liberation Sans, sans-serif" font-size="42.5" font-weight="bold">c</text>
<text transform="translate(25,1345.2) rotate(-90)" font-family="Liberation Sans, sans-serif" font-size="28.7"><tspan font-family="Liberation Serif, serif" font-style="italic">θ</tspan><tspan font-size="20" dy="8">c</tspan><tspan dy="-8" dx="1"> = </tspan><tspan dx="2">(</tspan><tspan font-style="italic">T</tspan><tspan font-size="20" dy="8">c</tspan><tspan dy="-8"> − </tspan><tspan font-style="italic">T</tspan><tspan font-size="20" dy="8">a</tspan><tspan dy="-8">)/(</tspan><tspan font-style="italic">T</tspan><tspan font-size="20" dy="8">0</tspan><tspan dy="-8"> − </tspan><tspan font-style="italic">T</tspan><tspan font-size="20" dy="8">a</tspan><tspan dy="-8">)</tspan></text>
<text x="845.40" y="1259.40" font-family="Liberation Sans, sans-serif" font-size="24.5"><tspan font-style="italic">Q</tspan><tspan font-size="17" dy="8">0</tspan><tspan dy="-8"> [kg s</tspan><tspan font-size="17" dy="-11" letter-spacing="0.5">−1</tspan><tspan dy="11">]</tspan></text>
<circle cx="886.7" cy="1290.50" r="6.1" fill="#0000ff"/>
<text x="900.9" y="1298.50" font-family="Liberation Sans, sans-serif" font-size="24">10<tspan font-size="17" dy="-12" dx="1">7</tspan></text>
<circle cx="886.7" cy="1317.10" r="6.1" fill="#ff0000"/>
<text x="900.9" y="1325.10" font-family="Liberation Sans, sans-serif" font-size="24">10<tspan font-size="17" dy="-12" dx="1">8</tspan></text>
<circle cx="886.7" cy="1345.10" r="6.1" fill="#000000"/>
<text x="900.9" y="1353.10" font-family="Liberation Sans, sans-serif" font-size="24">10<tspan font-size="17" dy="-12" dx="1">9</tspan></text>
<text x="568.5" y="1309.5" font-family="Liberation Sans, sans-serif" font-size="24">51 m s<tspan font-size="17" dy="-10" letter-spacing="1">−1</tspan><tspan dy="10" dx="1"> &lt; </tspan><tspan font-style="italic" dx="1">U</tspan><tspan font-size="17" dy="7">0</tspan><tspan dy="-7" dx="1"> &lt;</tspan><tspan dx="1.5"> 227 m s</tspan><tspan font-size="17" dy="-10" letter-spacing="1">−1</tspan></text>
<circle cx="614.7" cy="1339.6" r="3.95" fill="none" stroke="#000" stroke-width="1.3"/>
<circle cx="633.3" cy="1339.6" r="6.85" fill="none" stroke="#000" stroke-width="1.3"/>
<circle cx="657.1" cy="1339.6" r="9.45" fill="none" stroke="#000" stroke-width="1.3"/>
<circle cx="685.8" cy="1339.6" r="12.05" fill="none" stroke="#000" stroke-width="1.3"/>
<circle cx="718.6" cy="1339.6" r="13.75" fill="none" stroke="#000" stroke-width="1.3"/>
<circle cx="755.6" cy="1339.6" r="15.75" fill="none" stroke="#000" stroke-width="1.3"/>
<circle cx="796.6" cy="1339.6" r="17.85" fill="none" stroke="#000" stroke-width="1.3"/>
</svg></body></html>
